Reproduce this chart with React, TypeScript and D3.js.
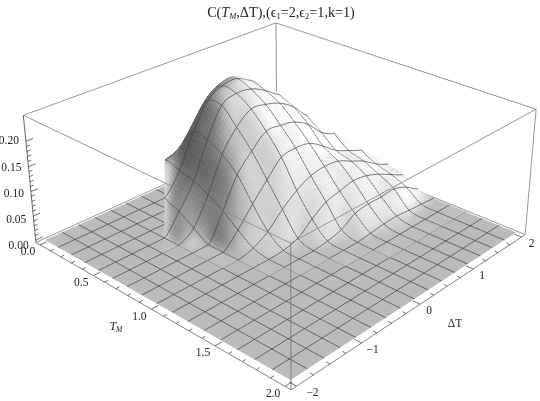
import React, { useMemo } from "react";
import * as d3 from "d3";

const W = 540, H = 401;
const tRows = [0,0.125,0.25,0.375,0.5,0.625,0.75,0.875,1,1.125,1.25,1.375,1.5,1.625,1.75,1.875,2];
const dCols = [-2,-1.75,-1.5,-1.25,-1,-0.75,-0.5,-0.25,0,0.25,0.5,0.75,1,1.25,1.5,1.75,2];
// columns follow dCols; the surface only exists where |dT| <= 2 T
const Z0 =    [0,0,0,0,0,0,0,0,0,0,0,0,0,0,0,0,0];
const zT000 = [0,0,0,0,0,0,0,0,0.05,0,0,0,0,0,0,0,0];
const zT0125= [0,0,0,0,0,0,0,0.075,0.085,0.136,0,0,0,0,0,0,0];
const zT025 = [0,0,0,0,0,0,0.105,0.12,0.16,0.2,0.215,0,0,0,0,0,0];
const zT0375= [0,0,0,0,0,0.055,0.096,0.163,0.213,0.232,0.235,0.22,0,0,0,0,0];
const zT05  = [0,0,0,0,0,0.04,0.088,0.16,0.216,0.228,0.225,0.21,0.19,0,0,0,0];
const zT0625= [0,0,0,0,0,0.02,0.074,0.142,0.184,0.208,0.205,0.195,0.175,0.145,0,0,0];
const zT075 = [0,0,0,0,0,0,0.055,0.114,0.148,0.175,0.174,0.168,0.15,0.12,0.105,0,0];
const zT0875= [0,0,0,0,0,0,0.03,0.068,0.103,0.135,0.14,0.136,0.117,0.094,0.08,0.068,0];
const zT100 = [0,0,0,0,0,0,0.008,0.026,0.056,0.08,0.096,0.101,0.098,0.084,0.07,0.05,0.036];
const zT1125= [0,0,0,0,0,0,0,0.002,0.011,0.035,0.055,0.063,0.07,0.066,0.055,0.04,0.026];
const zT125 = [0,0,0,0,0,0,0,0,0,0.004,0.012,0.03,0.035,0.035,0.037,0.026,0.008];
const zT1375= [0,0,0,0,0,0,0,0,0,0,0,0.003,0.007,0.008,0.005,0.003,0.001];
const zGrid = [zT000,zT0125,zT025,zT0375,zT05,zT0625,zT075,zT0875,zT100,zT1125,zT125,zT1375,Z0,Z0,Z0,Z0,Z0];

const boxCorners: [number,number,number,number,number][] = [
  [0,0,0,36,242],[1,0,0,291,389],[1,1,0,526,235],[0,1,0,276,134],
  [0,0,1,23,115],[1,0,1,291,245],[1,1,1,535,108],[0,1,1,277,23],
];
const tTicks = [0,0.5,1,1.5,2];
const dTicks = [-2,-1,0,1,2];
const zTicks = [0,0.05,0.1,0.15,0.2];
const dLabelDx = [16,11,9,9,10];

function solveCamera() {
  const A:number[][]=[], b:number[]=[];
  for (const [X,Y,Z,x,y] of boxCorners) {
    A.push([X,Y,Z,1,0,0,0,0,-x*X,-x*Y,-x*Z]); b.push(x);
    A.push([0,0,0,0,X,Y,Z,1,-y*X,-y*Y,-y*Z]); b.push(y);
  }
  const n=11;
  const M=Array.from({length:n},(_,i)=>{
    const r=Array.from({length:n},(_,j)=>d3.sum(A,a=>a[i]*a[j]));
    r.push(d3.sum(A,(a,k)=>a[i]*b[k])); return r;
  });
  for(let c=0;c<n;c++){
    let p=c; for(let r=c+1;r<n;r++) if(Math.abs(M[r][c])>Math.abs(M[p][c])) p=r;
    [M[c],M[p]]=[M[p],M[c]];
    for(let r=0;r<n;r++){ if(r===c) continue; const f=M[r][c]/M[c][c]; for(let k=c;k<=n;k++) M[r][k]-=f*M[c][k]; }
  }
  return M.map((r,i)=>r[n]/r[i]);
}
const cam = solveCamera();
const uS = d3.scaleLinear().domain([-0.04,2.04]).range([0,1]);
const vS = d3.scaleLinear().domain([-2.08,2.08]).range([0,1]);
const wS = d3.scaleLinear().domain([-0.005,0.25]).range([0,1]);
function proj(T:number,D:number,z:number):[number,number]{
  const X=uS(T),Y=vS(D),Z=wS(z);
  const q=cam[8]*X+cam[9]*Y+cam[10]*Z+1;
  return [(cam[0]*X+cam[1]*Y+cam[2]*Z+cam[3])/q,(cam[4]*X+cam[5]*Y+cam[6]*Z+cam[7])/q];
}
const cr=(a:number,b:number,c:number,d:number,t:number)=>0.5*(2*b+(c-a)*t+(2*a-5*b+4*c-d)*t*t+(3*b-a-3*c+d)*t*t*t);
// grid lookup that stays inside the wedge: an outside node borrows the nearest valid node of its row
const at=(i:number,j:number)=>{
  const ii=Math.max(0,Math.min(16,i));
  const lo=8-ii, hi=8+ii;
  const jj=Math.max(Math.max(0,lo),Math.min(Math.min(16,hi),j));
  return zGrid[ii][jj];
};
function val(fi:number,fj:number){
  const i=Math.max(0,Math.min(15,Math.floor(fi))), j=Math.max(0,Math.min(15,Math.floor(fj))), s=fi-i, t=fj-j;
  const r=[-1,0,1,2].map(di=>cr(at(i+di,j-1),at(i+di,j),at(i+di,j+1),at(i+di,j+2),t));
  return Math.max(0,cr(r[0],r[1],r[2],r[3],s));
}
const tIdx=d3.scaleLinear().domain([0,16]).range([tRows[0],tRows[16]]);
const dIdx=d3.scaleLinear().domain([0,16]).range([dCols[0],dCols[16]]);
const grayScale=(b:number)=>{const g=Math.round(255*Math.max(0.2,Math.min(1,b)));return `rgb(${g},${g},${g})`;};
function shade(fi:number,fj:number){
  const e=0.25;
  const dzdu=(wS(val(fi+e,fj))-wS(val(fi-e,fj)))/(2*e)*16*0.4;
  const dzdv=(wS(val(fi,fj+e))-wS(val(fi,fj-e)))/(2*e)*16*0.4;
  const nn=Math.hypot(dzdu,dzdv,1);
  const nx=-dzdu/nn, ny=-dzdv/nn;
  return 0.75+0.3*nx+(ny>0?0.35:0.22)*ny-0.35*Math.pow(Math.min(0,ny),4);
}
const SUB=7;
const FLOOR=0.735, MESH="#444", MW=0.72;
function buildFloor(){
  const out:any[]=[];
  const P=(i:number,j:number)=>proj(tIdx(i),dIdx(j),0);
  const corners=[P(0,0),P(16,0),P(16,16),P(0,16)];
  out.push(<polygon key="floor" points={corners.join(" ")} fill={grayScale(FLOOR)} stroke="none"/>);
  const line=d3.line();
  for(let k=1;k<16;k++){
    out.push(<path key={"ft"+k} d={line([P(k,0),P(k,16)])!} stroke={MESH} strokeWidth={MW} fill="none"/>);
    out.push(<path key={"fd"+k} d={line([P(0,k),P(16,k)])!} stroke={MESH} strokeWidth={MW} fill="none"/>);
  }
  return out;
}
function buildSurface(){
  const out:any[]=[];
  const line=d3.line();
  const n=SUB, c8=8*n;
  const P=(f:number,g:number)=>proj(tIdx(f/n),dIdx(g/n),val(f/n,g/n));
  const isActive=(i:number,j:number)=>d3.max([zGrid[i][j],zGrid[i+1][j],zGrid[i][j+1],zGrid[i+1][j+1],zGrid[i+1][Math.max(0,j-1)],zGrid[i+1][Math.min(16,j+2)],zGrid[Math.max(0,i-1)][j],zGrid[Math.max(0,i-1)][j+1]])!>0;
  for(let F0=0;F0<16*n;F0++){
    const F1=F0+1, i=Math.floor(F0/n);
    const deferred:any[]=[];
    for(let G0=16*n-1;G0>=0;G0--){
      const G1=G0+1, j=Math.floor(G0/n);
      if(!isActive(i,j)) continue;
      let tri:number[][]|null=null, inside=true;
      if(G1<=c8){
        if(F0+G0>=c8) {} else if(F1+G1<=c8) inside=false; else tri=[[F1,G0],[F1,G1],[F0,G1]];
      } else {
        if(F0-G1+c8>=0) {} else if(F1-G0+c8<=0) inside=false; else tri=[[F0,G0],[F1,G0],[F1,G1]];
      }
      if(!inside) continue;
      const pts=tri?tri.map(q=>P(q[0],q[1])):[P(F0,G0),P(F1,G0),P(F1,G1),P(F0,G1)];
      const cf=tri?d3.mean(tri,q=>q[0])!/n:(F0+0.5)/n, cg=tri?d3.mean(tri,q=>q[1])!/n:(G0+0.5)/n;
      const c=grayScale(shade(cf,cg));
      out.push(<polygon key={`p${F0}-${G0}`} points={pts.join(" ")} fill={c} stroke={c} strokeWidth={0.4}/>);
      if(!tri&&F0%n===0&&F0>0) deferred.push(<path key={`m${F0}-${G0}`} d={line([P(F0,G0),P(F0,G1)])!} stroke={MESH} strokeWidth={MW} fill="none"/>);
      if(G1%n===0&&G1<16*n&&(!tri||G1<=c8)) out.push(<path key={`n${F0}-${G0}`} d={line([P(F0,G1),P(F1,G1)])!} stroke={MESH} strokeWidth={MW} fill="none"/>);
    }
    out.push(...deferred);
  }
  return out;
}
const edge=(a:[number,number,number],b:[number,number,number],s="#8a8a8a",w=0.9)=>{
  const [x1,y1]=proj(a[0],a[1],a[2]),[x2,y2]=proj(b[0],b[1],b[2]);
  return <line key={a.join()+b.join()} x1={x1} y1={y1} x2={x2} y2={y2} stroke={s} strokeWidth={w}/>;
};
const Tlo=-0.04,Thi=2.04,Dlo=-2.08,Dhi=2.08,Zlo=-0.005,Zhi=0.25;
const font="'Liberation Serif','Times New Roman',serif";

export default function App(){
  const floor=useMemo(buildFloor,[]);
  const surface=useMemo(buildSurface,[]);
  const tMinor=d3.range(0,2.001,0.1), dMinor=d3.range(-2,2.001,0.25), zMinor=d3.range(0,0.2001,0.01);
  return (
    <svg width={W} height={H} viewBox={`0 0 ${W} ${H}`} style={{position:"absolute",left:0,top:0,background:"#fff"}} fontFamily={font} fontSize={11.5} fill="#222">
      <defs><filter id="soft" x="-5%" y="-5%" width="110%" height="110%"><feGaussianBlur stdDeviation="0.45"/></filter></defs>
      <g filter="url(#soft)">
        {edge([Tlo,Dlo,Zhi],[Tlo,Dhi,Zhi])}
        {edge([Tlo,Dhi,Zhi],[Thi,Dhi,Zhi])}
        {edge([Tlo,Dhi,Zlo],[Tlo,Dhi,Zhi])}
        {edge([Tlo,Dlo,Zlo],[Tlo,Dhi,Zlo])}
        {edge([Tlo,Dhi,Zlo],[Thi,Dhi,Zlo])}
        {edge([Thi,Dlo,Zlo],[Thi,Dhi,Zlo],"#777")}
        {edge([Tlo,Dlo,Zlo],[Thi,Dlo,Zlo],"#777")}
        {edge([Tlo,Dlo,Zlo],[Tlo,Dlo,Zhi],"#555")}
        {edge([Thi,Dhi,Zlo],[Thi,Dhi,Zhi])}
        {floor}
        {surface}
        {edge([Tlo,Dlo,Zhi],[Thi,Dlo,Zhi])}
        {edge([Thi,Dlo,Zhi],[Thi,Dhi,Zhi])}
        {edge([Thi,Dlo,Zlo],[Thi,Dlo,Zhi],"#777")}
        {tMinor.map(t=>{const maj=Math.abs(t*2-Math.round(t*2))<1e-6;const a=proj(t,Dlo,Zlo),b=proj(t,Dlo+(maj?0.1:0.05),Zlo);return <line key={"tt"+t} x1={a[0]} y1={a[1]} x2={b[0]} y2={b[1]} stroke="#333" strokeWidth={0.7}/>;})}
        {dMinor.map(d=>{const maj=Math.abs(d-Math.round(d))<1e-6;const a=proj(Thi,d,Zlo),b=proj(Thi-(maj?0.05:0.025),d,Zlo);return <line key={"dt"+d} x1={a[0]} y1={a[1]} x2={b[0]} y2={b[1]} stroke="#333" strokeWidth={0.7}/>;})}
        {zMinor.map(z=>{const maj=Math.abs(z*20-Math.round(z*20))<1e-6;const a=proj(Tlo,Dlo,z),b=proj(Tlo,Dlo+(maj?0.1:0.05),z);return <line key={"zt"+z} x1={a[0]} y1={a[1]} x2={b[0]} y2={b[1]} stroke="#333" strokeWidth={0.7}/>;})}
      </g>
      <g filter="url(#soft)">
        {tTicks.map(t=>{const [x,y]=proj(t,Dlo,Zlo);return <text key={"tl"+t} x={x-12} y={y+10.5} textAnchor="middle">{t.toFixed(1)}</text>;})}
        {dTicks.map((d,k)=>{const [x,y]=proj(Thi,d,Zlo);return <text key={"dl"+d} x={x+dLabelDx[k]} y={y+10} textAnchor="middle">{d<0?"\u2212"+(-d):d}</text>;})}
        {zTicks.map(z=>{const [x,y]=proj(Tlo,Dlo,z);return <text key={"zl"+z} x={x-7} y={y+2.5+(0.2-z)*30} textAnchor="end">{z.toFixed(2)}</text>;})}
        <text x={116} y={330} textAnchor="middle" fontStyle="italic">T<tspan fontSize={7.5} dy={2}>M</tspan></text>
        <text x={455} y={327} textAnchor="middle">ΔT</text>
        <text x={281} y={17} textAnchor="middle" fontSize={14.2}>C(<tspan fontStyle="italic">T</tspan><tspan fontStyle="italic" fontSize={8.5} dy={2}>M</tspan><tspan dy={-2}>,ΔT),(ϵ</tspan><tspan fontSize={8.5} dy={2}>1</tspan><tspan dy={-2}>=2,ϵ</tspan><tspan fontSize={8.5} dy={2}>2</tspan><tspan dy={-2}>=1,k=1)</tspan></text>
      </g>
    </svg>
  );
}
